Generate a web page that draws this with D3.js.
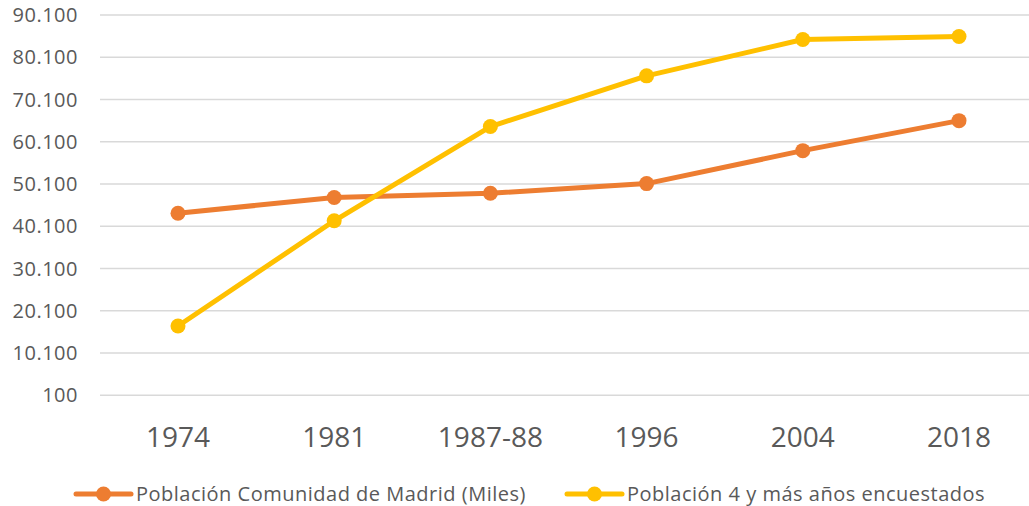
<!DOCTYPE html>
<html>
<head>
<meta charset="utf-8">
<script src="https://cdn.jsdelivr.net/npm/d3@7"></script>
<style>
  body { margin: 0; background: #fff; }
  svg text { font-family: "Open Sans", sans-serif; fill: #595959; }
</style>
</head>
<body>
<svg id="chart" width="1029" height="506"></svg>
<script>
// ─── data ─────────────────────────────
const categories = ["1974", "1981", "1987-88", "1996", "2004", "2018"];
const madrid     = [43200, 46900, 47900, 50200, 58000, 65100];
const encuest    = [16500, 41400, 63700, 75700, 84300, 85000];
const yTicks     = [100, 10100, 20100, 30100, 40100, 50100, 60100, 70100, 80100, 90100];
const seriesNames = ["Población Comunidad de Madrid (Miles)", "Población 4 y más años encuestados"];
const seriesColors = ["#ED7D31", "#FFC000"];

const svg = d3.select("#chart");
const W = 1029, H = 506;

const x = d3.scalePoint().domain(categories).range([178, 959]);
const y = d3.scaleLinear().domain([100, 90100]).range([395.3, 15]);

const fmt = v => d3.format(",")(v).replace(/,/g, ".");

// gridlines
svg.append("g").selectAll("line")
  .data(yTicks)
  .join("line")
    .attr("x1", 100).attr("x2", W)
    .attr("y1", d => y(d)).attr("y2", d => y(d))
    .attr("stroke", "#D9D9D9")
    .attr("stroke-width", 1.5);

// y labels
svg.append("g").selectAll("text")
  .data(yTicks)
  .join("text")
    .attr("x", 78)
    .attr("y", d => y(d) + 7)
    .attr("text-anchor", "end")
    .attr("font-size", 20)
    .attr("letter-spacing", 0.5)
    .text(d => fmt(d));

// x labels
svg.append("g").selectAll("text")
  .data(categories)
  .join("text")
    .attr("x", d => x(d))
    .attr("y", 446.5)
    .attr("text-anchor", "middle")
    .attr("font-size", 28)
    .text(d => d);

// lines
const line = d3.line().x((d, i) => x(categories[i])).y(d => y(d));
[madrid, encuest].forEach((vals, s) => {
  const g = svg.append("g");
  g.append("path")
    .datum(vals)
    .attr("d", line)
    .attr("fill", "none")
    .attr("stroke", seriesColors[s])
    .attr("stroke-width", 5)
    .attr("stroke-linejoin", "round");
  g.selectAll("circle")
    .data(vals)
    .join("circle")
      .attr("cx", (d, i) => x(categories[i]))
      .attr("cy", d => y(d))
      .attr("r", 7.5)
      .attr("fill", seriesColors[s]);
});

// legend
const legendX = [76, 567];
const legY = 494;
seriesNames.forEach((name, s) => {
  const lg = svg.append("g").attr("transform", `translate(${legendX[s]},${legY})`);
  lg.append("line")
    .attr("x1", 0).attr("x2", 55)
    .attr("y1", 0).attr("y2", 0)
    .attr("stroke", seriesColors[s])
    .attr("stroke-width", 5)
    .attr("stroke-linecap", "round");
  lg.append("circle")
    .attr("cx", 27.5).attr("cy", 0).attr("r", 7.5)
    .attr("fill", seriesColors[s]);
  lg.append("text")
    .attr("x", 60).attr("y", 6.5)
    .attr("font-size", 20)
    .attr("letter-spacing", 0.5)
    .text(name);
});
</script>
</body>
</html>
